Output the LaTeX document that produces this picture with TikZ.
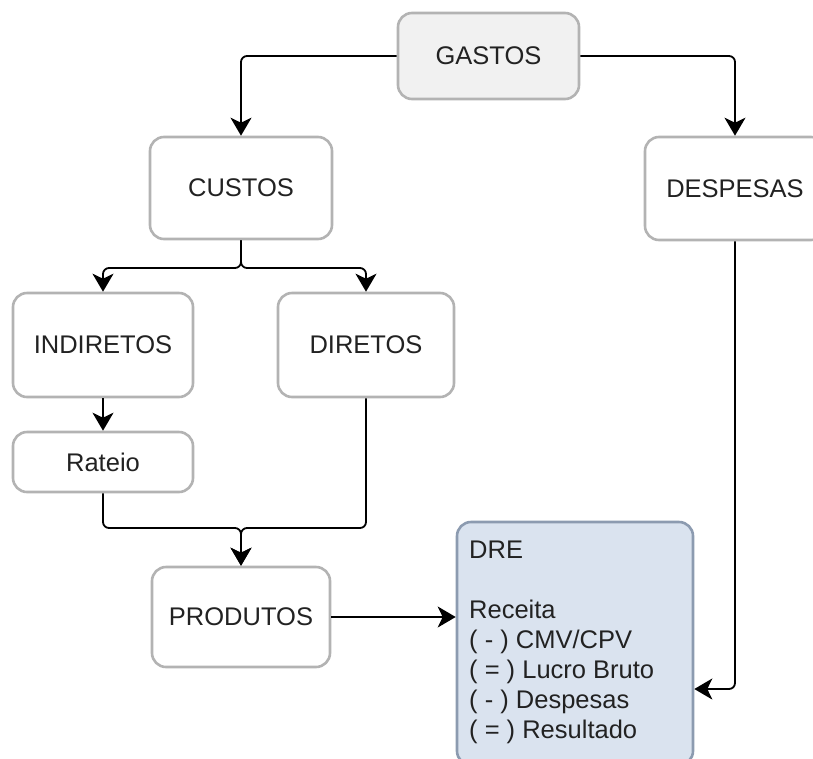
\documentclass[tikz,border=0pt]{standalone}
\usepackage{fontspec}
\setmainfont{Liberation Sans}
\usetikzlibrary{arrows.meta}
\definecolor{boxline}{HTML}{B3B3B3}
\definecolor{gastosfill}{HTML}{F1F1F1}
\definecolor{drefill}{HTML}{DAE3EF}
\definecolor{dreline}{HTML}{8C9BB0}
\definecolor{txt}{HTML}{222222}

\begin{document}
\begin{tikzpicture}[x=1pt,y=-1pt,
  box/.style={draw=boxline, line width=2.6pt, rounded corners=14pt, fill=white,
    text=txt, font=\fontsize{25.5}{30}\selectfont, inner sep=0pt},
  link/.style={draw=black, line width=1.8pt, rounded corners=6pt,
    -{Stealth[length=18pt,width=21pt,inset=5pt]}},
]
\useasboundingbox (0,0) rectangle (813,758);
\clip (0,0) rectangle (813,758);

% boxes
\node[box, fill=gastosfill, minimum width=181pt, minimum height=86pt] (gastos) at (488.5,56) {GASTOS};
\node[box, minimum width=182pt, minimum height=102pt] (custos) at (241,188) {CUSTOS};
\node[box, minimum width=180pt, minimum height=103pt] (despesas) at (735,188.5) {DESPESAS};
\node[box, minimum width=180pt, minimum height=104pt] (indiretos) at (103,345) {INDIRETOS};
\node[box, minimum width=176pt, minimum height=104pt] (diretos) at (366,345) {DIRETOS};
\node[box, minimum width=180pt, minimum height=60pt] (rateio) at (103,462) {Rateio};
\node[box, minimum width=178pt, minimum height=100pt] (produtos) at (241,617) {PRODUTOS};
\node[box, draw=dreline, fill=drefill, minimum width=236pt, minimum height=243pt] (dre) at (575,643.5) {};
\node[anchor=north west, inner sep=0pt, align=left, text=txt,
  font=\fontsize{25.5}{30}\selectfont] (dretext) at (469,541)
  {DRE\\[30pt]Receita\\( - ) CMV/CPV\\( = ) Lucro Bruto\\( - ) Despesas\\( = ) Resultado};

% connectors
\coordinate (split) at (241,268);
\coordinate (merge) at (241,528);
\draw[link] (gastos.west) -| (custos.north);
\draw[link] (gastos.east) -| (despesas.north);
\draw[link] (custos.south) -- (split) -| (indiretos.north);
\draw[link] (custos.south) -- (split) -| (diretos.north);
\draw[link] (indiretos.south) -- (rateio.north);
\draw[link] (rateio.south) |- (merge) -- (produtos.north);
\draw[link] (diretos.south) |- (merge) -- (produtos.north);
\draw[link] (produtos.east) -- (produtos.east -| dre.west);
\draw[link] (despesas.south) |- ([yshift=-45.5pt]dre.east);
\end{tikzpicture}
\end{document}
